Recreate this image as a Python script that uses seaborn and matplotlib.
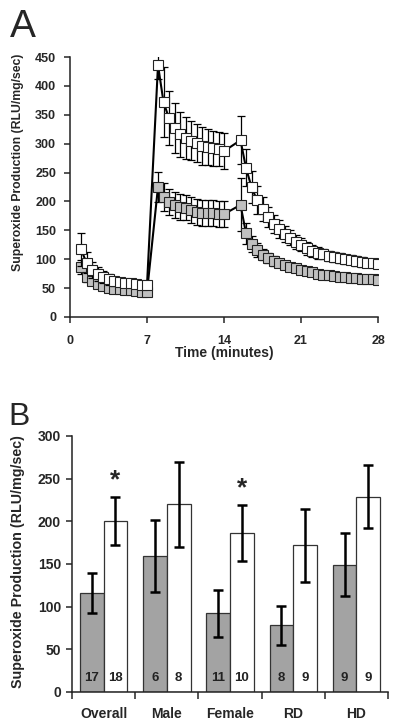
import numpy as np
import pandas as pd
import seaborn as sns
import matplotlib.pyplot as plt

# time course (panel A)
time = [1, 1.5, 2, 2.5, 3, 3.5, 4, 4.5, 5, 5.5, 6, 6.5, 7,
        8, 8.5, 9, 9.5, 10, 10.5, 11, 11.5, 12, 12.5, 13, 13.5, 14,
        15.5,
        16, 16.5, 17, 17.5, 18, 18.5, 19, 19.5, 20, 20.5, 21, 21.5, 22,
        22.5, 23, 23.5, 24, 24.5, 25, 25.5, 26, 26.5, 27, 27.5, 28]
white_line = [117, 94, 82, 74, 69, 65, 62, 60, 59, 58, 57, 56, 55,
              436, 372, 344, 327, 316, 310, 305, 301, 296, 294, 292, 291, 287,
              306,
              258, 225, 202, 187, 173, 161, 152, 144, 137, 130, 125, 119, 114,
              111, 109, 106, 104, 102, 100, 99, 97, 95, 93, 93, 92]
white_err = [28, 18, 14, 12, 10, 9, 8, 7, 7, 6, 6, 6, 6,
             24, 60, 47, 43, 39, 36, 34, 33, 33, 31, 30, 29, 31,
             42,
             32, 28, 24, 21, 18, 16, 15, 14, 13, 12, 11, 11, 10,
             10, 9, 9, 9, 8, 8, 8, 8, 8, 7, 7, 7]
gray_line = [87, 70, 62, 57, 53, 51, 49, 48, 47, 46, 45, 44, 43,
             225, 208, 199, 194, 190, 189, 185, 182, 180, 180, 180, 178, 178,
             194,
             145, 126, 116, 108, 102, 97, 93, 90, 87, 84, 81, 79, 77,
             75, 73, 72, 71, 70, 69, 68, 67, 66, 65, 65, 64]
gray_err = [12, 9, 7, 6, 5, 5, 4, 4, 4, 4, 4, 4, 4,
            26, 24, 22, 22, 22, 22, 22, 22, 22, 22, 22, 22, 22,
            46,
            18, 14, 12, 10, 9, 8, 7, 7, 6, 6, 6, 5, 5,
            5, 5, 5, 5, 5, 4, 4, 4, 4, 4, 4, 4]

# group means (panel B)
groups = ['Overall', 'Male', 'Female', 'RD', 'HD']
gray_bar = [116, 159, 92, 78, 149]
gray_bar_err = [24, 42, 27, 23, 37]
white_bar = [200, 220, 186, 172, 229]
white_bar_err = [28, 50, 33, 43, 37]
gray_n = [17, 6, 11, 8, 9]
white_n = [18, 8, 10, 9, 9]
star_y = {0: 248, 2: 239}

sns.set_style("ticks")
plt.rcParams['font.family'] = ['Liberation Sans', 'DejaVu Sans']
plt.rcParams['axes.linewidth'] = 1.1
plt.rcParams['axes.edgecolor'] = '#222222'

fig = plt.figure(figsize=(4, 7.28), dpi=100)
ax1 = fig.add_axes([0.175, 0.5646, 0.77, 0.3571])
ax2 = fig.add_axes([0.18, 0.0495, 0.79, 0.3516])

ylabel = 'Superoxide Production (RLU/mg/sec)'
gcol = '#c0c0c0'

# Panel A
ax1.errorbar(time, gray_line, yerr=gray_err, fmt='none', ecolor='black',
             elinewidth=0.9, capsize=3, capthick=0.9, zorder=1.5)
sns.lineplot(x=time, y=gray_line, ax=ax1, color='black', lw=1.5,
             marker='s', markersize=7, markerfacecolor=gcol,
             markeredgecolor='#222222', markeredgewidth=0.8, zorder=2)
ax1.errorbar(time, white_line, yerr=white_err, fmt='none', ecolor='black',
             elinewidth=0.9, capsize=3, capthick=0.9, zorder=2.5)
sns.lineplot(x=time, y=white_line, ax=ax1, color='black', lw=1.5,
             marker='s', markersize=7, markerfacecolor='white',
             markeredgecolor='#222222', markeredgewidth=0.8, zorder=3)

ax1.set_xlim(0, 28)
ax1.set_ylim(0, 450)
ax1.set_xticks([0, 7, 14, 21, 28])
ax1.set_yticks(range(0, 451, 50))
ax1.tick_params(labelsize=9, length=4, width=1.1)
ax1.tick_params(axis='x', pad=9)
ax1.tick_params(axis='y', pad=6)
for lab in ax1.get_xticklabels() + ax1.get_yticklabels():
    lab.set_fontweight('bold')
ax1.set_xlabel('Time (minutes)', fontsize=10, fontweight='bold', labelpad=-1)
ax1.set_ylabel(ylabel, fontsize=8.8, fontweight='bold')
ax1.yaxis.set_label_coords(-0.149, 0.596)
sns.despine(ax=ax1)

# Panel B
df = pd.DataFrame({
    'group': groups * 2,
    'cond': ['gray'] * 5 + ['white'] * 5,
    'value': gray_bar + white_bar,
})
sns.barplot(data=df, x='group', y='value', hue='cond', order=groups,
            palette={'gray': '#a3a3a3', 'white': 'white'},
            edgecolor='#333333', linewidth=0.9, width=0.75, gap=0,
            legend=False, ax=ax2)

for k, (cont, vals, errs, ns) in enumerate(zip(ax2.containers,
                                               [gray_bar, white_bar],
                                               [gray_bar_err, white_bar_err],
                                               [gray_n, white_n])):
    xs = [b.get_x() + b.get_width() / 2 for b in cont]
    ax2.errorbar(xs, vals, yerr=errs, fmt='none', ecolor='black',
                 elinewidth=1.8, capsize=3.5, capthick=1.8, zorder=3)
    for x, n in zip(xs, ns):
        ax2.text(x, 16, str(n), ha='center', va='center', fontsize=9.5,
                 fontweight='bold', color='#222222')
    if k == 1:
        for i, yv in star_y.items():
            ax2.text(xs[i], yv, '*', ha='center', va='center',
                     fontsize=19, fontweight='bold')

ax2.set_xlim(-0.5, 4.5)
ax2.set_ylim(0, 300)
ax2.set_yticks(range(0, 301, 50))
ax2.set_xticks(range(5))
ax2.set_xticklabels(groups)
ax2.set_xticks([-0.5, 0.5, 1.5, 2.5, 3.5, 4.5], minor=True)
ax2.tick_params(axis='x', which='major', length=0, pad=11)
ax2.tick_params(axis='x', which='minor', length=5, width=1.1)
ax2.tick_params(axis='y', length=4, width=1.1, pad=4)
ax2.tick_params(labelsize=10)
for lab in ax2.get_xticklabels() + ax2.get_yticklabels():
    lab.set_fontweight('bold')
ax2.set_xlabel('')
ax2.set_ylabel(ylabel, fontsize=10.3, fontweight='bold')
ax2.yaxis.set_label_coords(-0.149, 0.51)
sns.despine(ax=ax2)

fig.text(0.025, 1 - 37 / 728, 'A', fontsize=28)
fig.text(0.02, 1 - 425 / 728, 'B', fontsize=23)

fig.savefig('out.png', dpi=100)
